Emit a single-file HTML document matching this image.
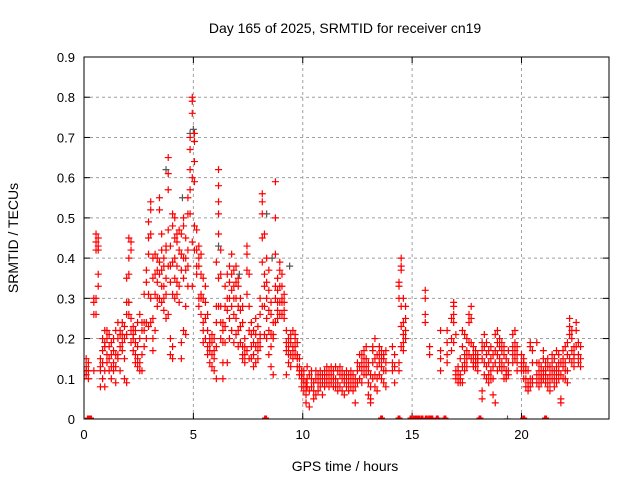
<!DOCTYPE html>
<html><head><meta charset="utf-8"><style>
body{margin:0;background:#fff;}
svg{display:block;font-family:"Liberation Sans",sans-serif;}
</style></head><body>
<svg id="chart" width="640" height="480" viewBox="0 0 640 480">
<rect x="0" y="0" width="640" height="480" fill="#fff"/>
<text x="345" y="33" font-size="14" text-anchor="middle" fill="#000">Day 165 of 2025, SRMTID for receiver cn19</text>
<text x="345" y="471" font-size="14" text-anchor="middle" fill="#000">GPS time / hours</text>
<text transform="translate(18,238) rotate(-90)" font-size="14" text-anchor="middle" fill="#000">SRMTID / TECUs</text>
<g id="grid"></g>
<g id="ticks"></g>
<clipPath id="clip"><rect x="84" y="57" width="525" height="362"/></clipPath>
<g id="marks" clip-path="url(#clip)"></g>
<rect x="84" y="57" width="525" height="362" fill="none" stroke="#000" stroke-width="1"/>
</svg>
<script>
const xTicks=[0,5,10,15,20];
const yTicks=[0,0.1,0.2,0.3,0.4,0.5,0.6,0.7,0.8,0.9];
const yTickLabels=["0","0.1","0.2","0.3","0.4","0.5","0.6","0.7","0.8","0.9"];
const obsHours=[
0,0.1,0.2,0.45,0.55,0.65,0.75,0.85,0.95,1.05,
1.15,1.25,1.35,1.45,1.55,1.65,1.75,1.85,1.95,2.05,
2.15,2.25,2.35,2.45,2.55,2.65,2.75,2.85,2.95,3.05,
3.15,3.25,3.35,3.45,3.55,3.65,3.75,3.85,3.95,4.05,
4.15,4.25,4.35,4.45,4.55,4.65,4.75,4.85,4.95,5.05,
5.15,5.25,5.35,5.45,5.55,5.65,5.75,5.85,5.95,6.05,
6.15,6.25,6.35,6.45,6.55,6.65,6.75,6.85,6.95,7.05,
7.15,7.25,7.35,7.45,7.55,7.65,7.75,7.85,7.95,8.05,
8.15,8.25,8.35,8.45,8.55,8.65,8.75,8.85,8.95,9.05,
9.15,9.25,9.35,9.45,9.55,9.65,9.75,9.85,9.95,10.05,
10.15,
10.2,10.3,10.4,10.5,10.6,10.7,10.8,10.9,11.0,11.1,
11.2,11.3,11.4,11.5,11.6,11.7,11.8,11.9,12.0,12.1,
12.2,12.3,12.4,12.5,12.6,12.7,12.8,12.9,13.0,13.1,
13.2,13.3,13.4,13.5,13.6,13.7,13.8,
14.1,14.2,14.4,14.5,14.6,14.7,15.6,15.8,16.3,16.6,16.8,16.9,
17.0,17.1,17.2,17.3,17.4,17.5,17.6,17.7,17.8,17.9,18.0,
18.2,18.3,18.4,18.5,18.6,18.7,18.8,18.9,19.0,19.1,19.2,19.3,19.4,
19.6,19.7,19.8,
20.0,20.1,20.2,20.3,20.4,20.5,
20.7,20.8,20.9,21.0,21.1,21.2,21.3,21.4,21.5,21.6,
21.7,21.8,21.9,22.0,22.1,22.2,22.3,22.4,22.5,22.6,22.7
];
const obsValues=[
[0.10,0.12,0.11],[0.13,0.15,0.11,0.12],[0.12,0.14,0.10],[0.26,0.30,0.29,0.12],[0.42,0.44,0.46,0.30,0.26],
[0.43,0.45,0.42,0.36,0.33],[0.12,0.15,0.08,0.13],[0.10,0.17,0.20,0.14],[0.22,0.18,0.12,0.08,0.19],[0.14,0.20,0.22,0.16],
[0.15,0.21,0.12,0.18],[0.16,0.13,0.19,0.10],[0.14,0.20,0.17,0.12],[0.13,0.16,0.22,0.09],[0.16,0.24,0.20,0.15],
[0.22,0.18,0.12,0.21],[0.21,0.17,0.24,0.19],[0.20,0.23,0.15,0.10],[0.26,0.35,0.29,0.21,0.09],[0.40,0.45,0.36,0.29,0.26],
[0.44,0.42,0.25,0.22,0.19],[0.21,0.23,0.17,0.20],[0.16,0.19,0.22,0.14],[0.13,0.18,0.15,0.24],[0.12,0.26,0.20,0.14],
[0.24,0.16,0.12,0.22],[0.22,0.18,0.31,0.24],[0.37,0.34,0.24,0.20],[0.49,0.45,0.41,0.31,0.23],[0.54,0.52,0.46,0.30,0.24],
[0.40,0.35,0.25,0.17,0.20],[0.31,0.36,0.41,0.22],[0.37,0.40,0.34,0.30,0.28],[0.55,0.52,0.39,0.30,0.36],[0.46,0.42,0.37,0.33,0.29],
[0.40,0.38,0.33,0.30,0.27],[0.43,0.42,0.35,0.31,0.25],[0.65,0.61,0.57,0.47,0.38,0.26],[0.43,0.38,0.34,0.20,0.16],[0.51,0.48,0.39,0.31,0.18,0.15],
[0.50,0.45,0.40,0.35,0.30],[0.46,0.44,0.38,0.34,0.31],[0.47,0.42,0.33,0.29],[0.46,0.41,0.37,0.19,0.15],[0.50,0.48,0.40,0.35,0.22],
[0.45,0.40,0.37,0.28,0.21],[0.55,0.51,0.42,0.38,0.33],[0.70,0.67,0.62,0.57,0.51],[0.80,0.79,0.76,0.60,0.44,0.33],[0.71,0.69,0.64,0.59,0.48,0.42],
[0.47,0.42,0.38,0.36],[0.40,0.43,0.38,0.30,0.28],[0.41,0.36,0.31,0.26,0.30],[0.35,0.30,0.24,0.22,0.19],[0.33,0.29,0.25,0.20],
[0.26,0.22,0.18,0.16],[0.20,0.17,0.14,0.19],[0.13,0.19,0.16,0.21],[0.20,0.17,0.15,0.12],[0.10,0.24,0.18,0.28,0.39],
[0.62,0.58,0.54,0.51,0.46,0.35,0.28],[0.36,0.28,0.20,0.24,0.42],[0.22,0.19,0.14,0.10,0.24],[0.28,0.33,0.23,0.19],[0.36,0.30,0.27,0.14],
[0.38,0.34,0.30,0.25,0.20],[0.41,0.36,0.32,0.28,0.22],[0.37,0.33,0.30,0.26,0.19],[0.38,0.34,0.30,0.25,0.21],[0.35,0.33,0.28,0.22,0.18],
[0.30,0.27,0.23,0.19],[0.28,0.24,0.18,0.16,0.15],[0.20,0.18,0.16,0.14],[0.43,0.41,0.37,0.31,0.17],[0.36,0.28,0.22,0.15],
[0.24,0.21,0.18,0.15],[0.22,0.19,0.16,0.13],[0.25,0.21,0.18,0.14],[0.23,0.19,0.17,0.15],[0.30,0.26,0.20,0.18,0.21],
[0.56,0.54,0.51,0.45,0.39,0.28],[0.36,0.33,0.28,0.21,0.46],[0.40,0.34,0.30,0.25,0.20],[0.37,0.32,0.27,0.22,0.16],[0.29,0.26,0.21,0.18,0.13],
[0.24,0.21,0.20,0.11],[0.59,0.50,0.41,0.33,0.30,0.24],[0.35,0.32,0.29,0.27,0.25],[0.39,0.37,0.33,0.29,0.26],[0.36,0.33,0.29,0.26,0.30],
[0.31,0.29,0.27,0.25],[0.22,0.19,0.17,0.11],[0.20,0.18,0.16,0.14],[0.21,0.19,0.16,0.13],[0.22,0.18,0.15,0.17],
[0.20,0.18,0.16,0.21],[0.19,0.16,0.13,0.15],[0.15,0.13,0.11,0.12],[0.12,0.10,0.08,0.11],[0.10,0.09,0.07,0.12],
[0.06,0.04,0.09,0.08],
[0.13,0.10,0.08],[0.11,0.07,0.03],[0.10,0.08,0.12],[0.09,0.07,0.05],[0.10,0.06,0.12],
[0.09,0.11,0.07],[0.12,0.08,0.10],[0.09,0.11,0.06],[0.10,0.08,0.12],[0.11,0.09,0.13],
[0.08,0.10,0.12],[0.09,0.11,0.13],[0.12,0.10,0.08],[0.10,0.13,0.08],[0.09,0.12,0.07],
[0.11,0.08,0.13],[0.10,0.12,0.07],[0.11,0.09,0.06],[0.10,0.08,0.12],[0.09,0.11,0.07],
[0.10,0.08,0.12],[0.11,0.09,0.07],[0.08,0.10,0.04],[0.12,0.09,0.14],[0.13,0.16,0.10],
[0.14,0.12,0.16,0.09],[0.15,0.11,0.17,0.13],[0.18,0.13,0.15,0.11],[0.12,0.09,0.06,0.14],[0.08,0.05,0.04,0.11],
[0.18,0.17,0.14,0.10],[0.20,0.15,0.11,0.08],[0.13,0.10,0.07,0.16],[0.16,0.14,0.11,0.18],[0.17,0.15,0.13,0.10],
[0.16,0.12,0.09,0.15],[0.17,0.14,0.08,0.12],
[0.14,0.18,0.12],[0.16,0.13,0.09],[0.34,0.33,0.30,0.12,0.14],[0.40,0.38,0.37,0.28,0.23,0.18],[0.24,0.21,0.19,0.17,0.30],
[0.25,0.22,0.20,0.28],[0.32,0.30,0.26,0.24],[0.18,0.16],[0.22,0.17,0.15,0.12],[0.22,0.19,0.16,0.14],
[0.25,0.20,0.17],[0.29,0.28,0.26,0.24,0.19],
[0.21,0.12,0.11,0.10],[0.13,0.10,0.09,0.12],[0.15,0.11,0.09,0.10],[0.22,0.18,0.13,0.09],[0.21,0.16,0.12,0.14],
[0.20,0.17,0.13,0.15],[0.26,0.24,0.19,0.16],[0.28,0.25,0.19,0.15],[0.18,0.16,0.14,0.13],[0.17,0.15,0.13,0.14],
[0.16,0.14,0.12,0.15],
[0.19,0.17,0.15,0.07,0.05],[0.21,0.18,0.14,0.11],[0.19,0.16,0.13,0.10],[0.17,0.14,0.11,0.09],[0.18,0.15,0.12,0.10],
[0.16,0.13,0.10,0.06],[0.21,0.17,0.14,0.04],[0.22,0.19,0.16,0.12],[0.20,0.18,0.15,0.13],[0.19,0.17,0.14,0.12],
[0.18,0.16,0.13,0.10],[0.15,0.12,0.10,0.11],[0.17,0.14,0.12,0.11],
[0.21,0.18,0.16,0.14],[0.22,0.19,0.17,0.15],[0.18,0.16,0.14,0.12],
[0.14,0.13,0.12,0.16],[0.15,0.12,0.10,0.14],[0.13,0.10,0.08,0.12],[0.12,0.09,0.08,0.07],[0.19,0.18,0.10,0.08],
[0.17,0.14,0.10,0.09],
[0.19,0.14,0.11,0.09],[0.14,0.12,0.10,0.08],[0.13,0.11,0.09,0.10],[0.17,0.15,0.12,0.10],[0.14,0.12,0.09,0.11],
[0.15,0.10,0.08,0.13],[0.13,0.11,0.09,0.07],[0.16,0.14,0.12,0.10],[0.15,0.12,0.10,0.08],[0.17,0.13,0.11,0.09],
[0.16,0.12,0.10,0.14],[0.14,0.11,0.05,0.04],[0.17,0.13,0.10,0.15],[0.18,0.14,0.12,0.10],[0.19,0.16,0.12,0.09],
[0.25,0.23,0.21,0.15],[0.22,0.20,0.17,0.14],[0.18,0.16,0.13,0.15],[0.24,0.22,0.18],[0.19,0.16,0.14],[0.18,0.15,0.13]
];
const zeroHours=[0.2,0.3,8.3,13.6,14.4,14.95,15.1,15.2,15.3,15.45,15.65,15.8,15.9,16.15,16.5,18.1,20.1,21.1];
const refHours=[3.75,4.5,4.85,5.0,6.15,7.1,8.35,8.6,9.4,2.05,19.36];
const refValues=[0.62,0.55,0.71,0.72,0.43,0.36,0.51,0.40,0.38,0.29,0];

const X0=84,X1=609,Y0=419,Y1=57,XMAX=24,YMAX=0.9;
function xs(h){return X0+(X1-X0)*h/XMAX;}
function ys(v){return Y0-(Y0-Y1)*v/YMAX;}
const NS="http://www.w3.org/2000/svg";
function el(tag,attrs,parent){const e=document.createElementNS(NS,tag);for(const k in attrs)e.setAttribute(k,attrs[k]);parent.appendChild(e);return e;}
const grid=document.getElementById('grid'),ticks=document.getElementById('ticks'),marks=document.getElementById('marks');
xTicks.forEach(t=>{
  const x=xs(t);
  if(t>0){const g=el('line',{x1:x,y1:Y0,x2:x,y2:Y1,stroke:'#a0a0a0','stroke-dasharray':'3,3'},grid);
  
  }
  el('line',{x1:x,y1:Y0,x2:x,y2:Y0-6,stroke:'#000'},ticks);
  el('line',{x1:x,y1:Y1,x2:x,y2:Y1+6,stroke:'#000'},ticks);
  const l=el('text',{x:x,y:Y0+20,'font-size':13,'text-anchor':'middle'},ticks);
  l.textContent=String(t);
  
  
});
yTicks.forEach((t,i)=>{
  const y=ys(t);
  if(t>0&&t<YMAX){const g=el('line',{x1:X0,y1:y,x2:X1,y2:y,stroke:'#a0a0a0','stroke-dasharray':'3,3'},grid);
  
  }
  el('line',{x1:X0,y1:y,x2:X0+6,y2:y,stroke:'#000'},ticks);
  el('line',{x1:X1,y1:y,x2:X1-6,y2:y,stroke:'#000'},ticks);
  const l=el('text',{x:X0-9,y:y+5,'font-size':13,'text-anchor':'end'},ticks);
  l.textContent=yTickLabels[i];
  
  
});
function plus(h,v,color,name,w){
  const x=xs(h),y=ys(v);
  const p=el('path',{d:`M${x-3.5},${y}H${x+3.5}M${x},${y-3.5}V${y+3.5}`,stroke:color,'stroke-width':w||1.2,fill:'none'},marks);
  
  
}
refHours.forEach((h,i)=>plus(h,refValues[i],'#555','reference-point'));
obsHours.forEach((h,i)=>{(obsValues[i]||[]).forEach(v=>plus(h,v,'#ff0000','srmtid-point'));});
zeroHours.forEach(h=>plus(h,0,'#ff0000','zero-point',3));
</script>
</body></html>
